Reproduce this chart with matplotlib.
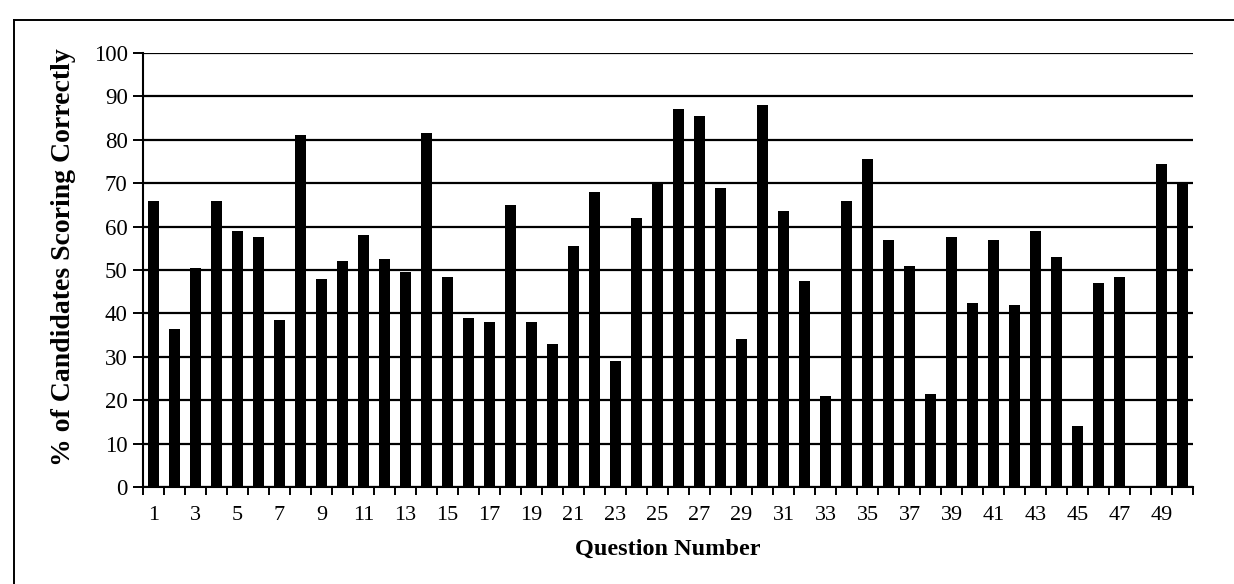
import numpy as np
import matplotlib.pyplot as plt
from matplotlib.lines import Line2D

# % of candidates scoring correctly per question
questions = np.arange(1, 51)
pct_correct = [66, 36.5, 50.5, 66, 59, 57.5, 38.5, 81, 48, 52,
               58, 52.5, 49.5, 81.5, 48.5, 39, 38, 65, 38, 33,
               55.5, 68, 29, 62, 70, 87, 85.5, 69, 34, 88,
               63.5, 47.5, 21, 66, 75.5, 57, 51, 21.5, 57.5, 42.5,
               57, 42, 59, 53, 14, 47, 48.5, 0, 74.5, 70]
tick_labels = [str(q) for q in range(1, 50, 2)]
y_ticks = list(range(0, 101, 10))

plt.rcParams['font.family'] = ['Liberation Serif', 'DejaVu Serif']

fig = plt.figure(figsize=(12.34, 5.84), dpi=100)
ax = fig.add_axes([143 / 1234, 1 - 487 / 584, (1193 - 143) / 1234, (487 - 53) / 584])

x = np.arange(len(questions))
ax.bar(x, pct_correct, width=0.55, color='black', zorder=3)

ax.set_xlim(-0.5, len(questions) - 0.5)
ax.set_ylim(0, 100)
ax.set_yticks(y_ticks)
ax.set_yticklabels([str(v) for v in y_ticks], fontsize=16.5)
ax.yaxis.grid(True, color='black', linewidth=1.6, zorder=1)

# category labels every other question, ticks on the category boundaries
ax.set_xticks(x[::2])
ax.set_xticklabels(tick_labels, fontsize=16)
ax.tick_params(axis='x', length=0, pad=14)
ax.set_xticks(np.arange(-0.5, len(questions)), minor=True)
ax.tick_params(axis='x', which='minor', length=6, width=1.4, direction='out')
ax.tick_params(axis='y', length=7, width=1.4, direction='out', pad=4)

for side in ['top', 'right']:
    ax.spines[side].set_visible(False)
ax.spines['left'].set_linewidth(1.5)
ax.spines['bottom'].set_linewidth(1.5)

ax.set_xlabel('Question Number', fontsize=17.5, fontweight='bold', labelpad=10)
ax.set_ylabel('% of Candidates Scoring Correctly', fontsize=20, fontweight='bold')
ax.yaxis.set_label_coords(-0.064, 0.53)

# outer border of the chart area (right and bottom run off the scan)
fig.add_artist(Line2D([14 / 1234, 14 / 1234], [0, 1 - 20 / 584], color='black', linewidth=1.4, transform=fig.transFigure))
fig.add_artist(Line2D([14 / 1234, 1], [1 - 20 / 584, 1 - 20 / 584], color='black', linewidth=1.4, transform=fig.transFigure))

plt.savefig('out.png', dpi=100)
